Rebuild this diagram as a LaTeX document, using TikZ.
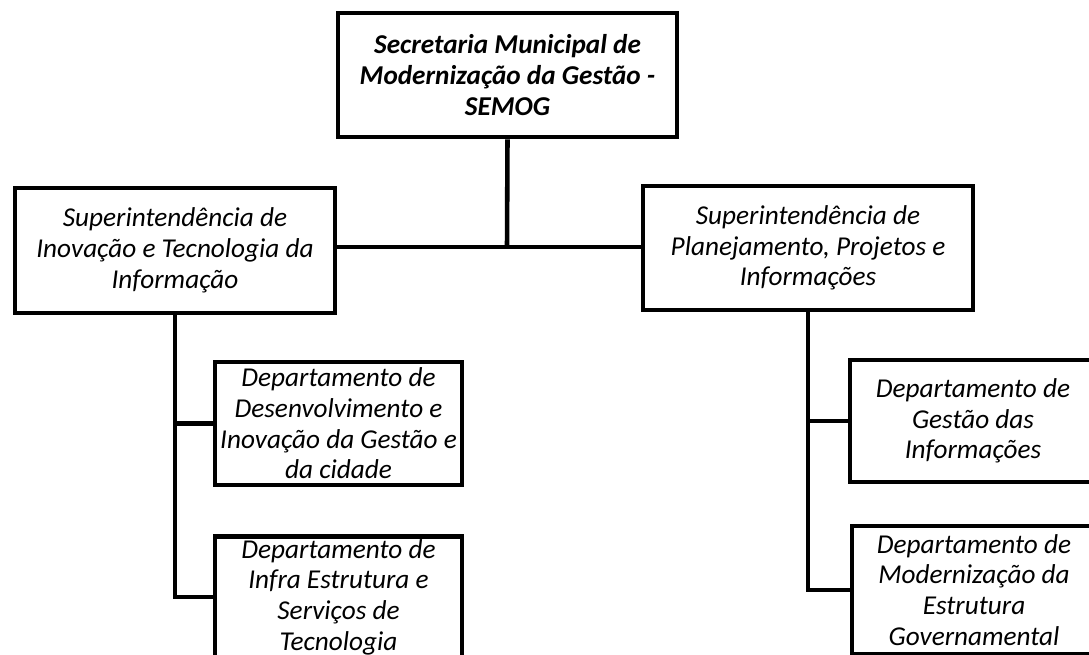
\documentclass[tikz,border=0pt]{standalone}
\usepackage{fontspec}
\setmainfont{Carlito}

\begin{document}
\begin{tikzpicture}[x=0.02cm,y=-0.02cm,
	orgbox/.style={draw,line width=2.6pt,align=center,inner sep=2pt,font=\itshape\fontsize{15.5}{17.5}\selectfont},
	link/.style={line width=2.6pt}]
	\useasboundingbox (0,0) rectangle (1089,655);
	\clip (0,0) rectangle (1089,655);
	\node[orgbox,minimum width=6.78cm,minimum height=2.48cm,font=\bfseries\itshape\fontsize{15.5}{17.5}\selectfont] (semog) at (507.5,75) {Secretaria Municipal de\\Modernização da Gestão -\\SEMOG};
	\node[orgbox,minimum width=6.4cm,minimum height=2.5cm] (sitec) at (175,250.5) {Superintendência de\\Inovação e Tecnologia da\\Informação};
	\node[orgbox,minimum width=6.6cm,minimum height=2.48cm] (splan) at (808,248) {Superintendência de\\Planejamento, Projetos e\\Informações};
	\node[orgbox,minimum width=4.94cm,minimum height=2.46cm] (dinov) at (338.5,423.5) {Departamento de\\Desenvolvimento e\\Inovação da Gestão e\\da cidade};
	\node[orgbox,minimum width=4.94cm,minimum height=2.42cm,inner ysep=0pt] (dinfra) at (338.5,597) {Departamento de\\Infra Estrutura e\\Serviços de\\Tecnologia};
	\node[orgbox,minimum width=4.92cm,minimum height=2.44cm] (dinfo) at (973,421) {Departamento de\\Gestão das\\Informações};
	\node[orgbox,minimum width=4.88cm,minimum height=2.56cm] (dmod) at (974,590) {Departamento de\\Modernização da\\Estrutura\\Governamental};
	\coordinate (bus) at (507,247);
	\draw[link] (semog.south) -- (bus);
	\draw[link] (sitec.east |- bus) -- (splan.west |- bus);
	\draw[link] (sitec.south) |- (dinfra.west);
	\draw[link] (sitec.south |- dinov.west) -- (dinov.west);
	\draw[link] (splan.south) |- (dmod.west);
	\draw[link] (splan.south |- dinfo.west) -- (dinfo.west);
\end{tikzpicture}
\end{document}
